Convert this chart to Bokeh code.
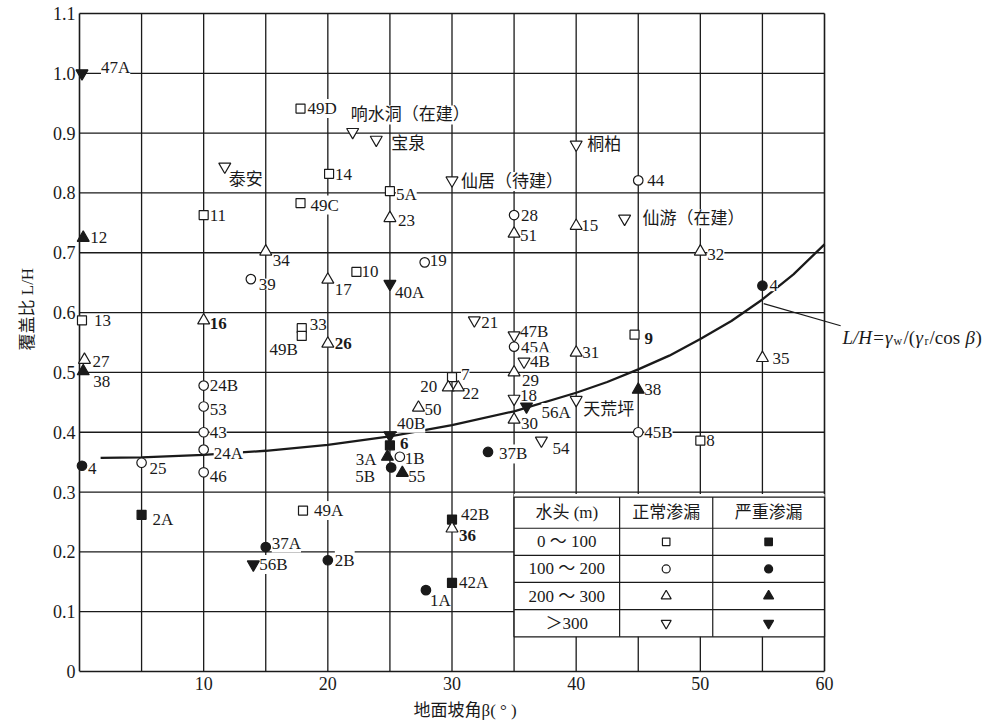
from bokeh.plotting import figure
from bokeh.models import (FixedTicker, PrintfTickFormatter, ColumnDataSource, Range1d, Title)
from bokeh.core.properties import value
from bokeh.embed import file_html
from bokeh.resources import INLINE

# ---------------- data ----------------
point_names = ["47A", "49D", "泰安", "49C", "11", "12", "34", "响水洞（在建）", "宝泉", "14",
               "5A", "23", "仙居（待建）", "28", "51", "桐柏", "15", "19", "44", "仙游（在建）",
               "32", "39", "13", "16", "33", "49B", "27", "38", "24B", "53",
               "43", "24A", "46", "4", "25", "17", "10", "40A", "26", "21",
               "47B", "45A", "4B", "29", "7", "20", "22", "18", "56A", "天荒坪",
               "30", "50", "40B", "6", "3A", "1B", "5B", "55", "37B", "54",
               "31", "9", "38", "45B", "4", "35", "8", "2A", "37A", "56B",
               "49A", "2B", "42B", "36", "42A", "1A"]
slope_beta = [0.2, 17.8, 11.7, 17.8, 10, 0.3, 15, 22.0, 23.9, 20.1,
              25, 25, 30, 35, 35, 40, 40, 27.8, 45, 43.9,
              50, 13.8, 0.2, 10, 17.9, 17.9, 0.4, 0.3, 10, 10,
              10, 10, 10, 0.2, 5, 20, 22.3, 25, 20, 31.8,
              35, 35, 35.8, 35, 30, 29.7, 30.5, 35, 36.0, 40,
              35, 27.3, 25, 25, 24.8, 25.8, 25.1, 26.0, 32.9, 37.2,
              40, 44.7, 45, 45, 55, 55, 50, 5, 15, 14.0,
              18.0, 20, 30, 30, 30, 27.9]
cover_ratio = [1.000, 0.941, 0.844, 0.783, 0.763, 0.725, 0.702, 0.902, 0.889, 0.832,
               0.803, 0.758, 0.821, 0.763, 0.732, 0.881, 0.745, 0.684, 0.821, 0.757,
               0.702, 0.656, 0.587, 0.587, 0.574, 0.561, 0.521, 0.502, 0.478, 0.443,
               0.400, 0.371, 0.333, 0.344, 0.349, 0.655, 0.668, 0.648, 0.548, 0.587,
               0.562, 0.543, 0.518, 0.500, 0.492, 0.475, 0.475, 0.456, 0.443, 0.454,
               0.421, 0.441, 0.395, 0.378, 0.359, 0.359, 0.341, 0.332, 0.367, 0.386,
               0.533, 0.563, 0.471, 0.400, 0.645, 0.524, 0.386, 0.262, 0.208, 0.179,
               0.269, 0.186, 0.254, 0.239, 0.148, 0.136]
# head class: 0 = 0~100 m, 1 = 100~200 m, 2 = 200~300 m, 3 = >300 m
head_class = [3, 0, 3, 0, 0, 2, 2, 3, 3, 0,
              0, 2, 3, 1, 2, 3, 2, 1, 1, 3,
              2, 1, 0, 2, 0, 0, 2, 2, 1, 1,
              1, 1, 1, 1, 1, 2, 0, 3, 2, 3,
              3, 1, 3, 2, 0, 2, 2, 3, 3, 3,
              2, 2, 3, 0, 2, 1, 1, 2, 1, 3,
              2, 0, 2, 1, 1, 2, 0, 0, 1, 3,
              0, 1, 0, 2, 0, 1]
# 1 = severe leakage (filled), 0 = normal leakage (open)
severe_leak = [1, 0, 0, 0, 0, 1, 0, 0, 0, 0,
               0, 0, 0, 0, 0, 0, 0, 0, 0, 0,
               0, 0, 0, 0, 0, 0, 0, 1, 0, 0,
               0, 0, 0, 1, 0, 0, 0, 1, 0, 0,
               0, 0, 0, 0, 0, 0, 0, 0, 1, 0,
               0, 0, 1, 1, 1, 0, 1, 1, 1, 0,
               0, 0, 1, 0, 1, 0, 0, 1, 1, 1,
               0, 1, 1, 0, 1, 1]

# theoretical curve L/H = γw/(γr/cosβ)
curve_beta = [1.7, 5, 10, 15, 20, 25, 30, 35, 40, 42.5, 45, 47.5, 50, 52.5, 55, 57.5, 60]
curve_ratio = [0.357, 0.358, 0.362, 0.369, 0.379, 0.393, 0.412, 0.435, 0.466, 0.484,
               0.505, 0.528, 0.556, 0.586, 0.622, 0.664, 0.714]

x_ticks = [10, 20, 30, 40, 50, 60]
y_ticks = [0, 0.1, 0.2, 0.3, 0.4, 0.5, 0.6, 0.7, 0.8, 0.9, 1.0, 1.1]
x_grid = [5, 10, 15, 20, 25, 30, 35, 40, 45, 50, 55]
y_grid = [0.1, 0.2, 0.3, 0.4, 0.5, 0.6, 0.7, 0.8, 0.9, 1.0]
x_lim = (0, 60)
y_lim = (0, 1.1)
legend_heads = ["0 ～ 100", "100 ～ 200", "200 ～ 300", "＞300"]
legend_cols = ["水头 (m)", "正常渗漏", "严重渗漏"]

# ---------------- label placement (screen px offsets, styles) ----------------
label_dx = [19, 7, 4, 10, 6, 7, 7, -2, 15, 6,
            6, 8, 9, 7, 6, 11, 5, 5, 9, 18,
            7, 8, 12, 6, 8, -4, 8, 10, 6, 6,
            6, 10, 6, 6, 8, 7, 5, 5, 7, 7,
            6, 7, 6, 8, 9, -11, 4, 6, 15, 7,
            7, 6, 7, 10, -11, 5, -16, 6, 11, 11,
            6, 10, 6, 6, 7, 10, 6, 11, 6, 6,
            11, 7, 9, 7, 7, 4]
label_dy = [-6, 0, 13, 2, 0, 0, 9, -17, 4, 1,
            3, 2, 1, 0, 2, 0, 0, -2, 0, 0,
            3, 5, 0, 3, -4, 14, 2, 10, 0, 3,
            0, 4, 4, 3, 6, 10, 0, 9, 0, 2,
            -4, 1, 0, 8, -3, -1, 6, -3, 6, 10,
            4, 2, -12, -2, 3, 2, 9, 4, 2, 8,
            0, 4, 0, 0, 0, 0, 0, 5, -4, 0,
            0, 0, -5, 7, 0, 10]
right_aligned = {"49B", "20", "3A", "5B"}
bold_labels = {"16", "26", "9", "6", "36"}

FONT = "Liberation Serif, Noto Sans CJK SC"
SERIF = "Liberation Serif"
BLACK = "#1a1a1a"

# canvas geometry (pixels)
W, H = 989, 726
FRAME_L, FRAME_T, FRAME_B = 73, 11, 671     # frame edges on the canvas
PX_PER_X = 745 / 60                          # px per degree
PX_PER_Y = 658 / 1.1                         # px per unit of L/H
x0 = -(79 - FRAME_L) / PX_PER_X
x1 = x0 + (W - FRAME_L) / PX_PER_X
y1 = (FRAME_B - FRAME_T) / PX_PER_Y

marker_names = ["square", "circle", "triangle", "inverted_triangle"]
marker_sizes = [9, 9.5, 12, 12]

p = figure(width=W, height=H, x_range=Range1d(x0, x1), y_range=Range1d(0, y1),
           output_backend="svg", toolbar_location=None,
           min_border_left=FRAME_L, min_border_right=0, min_border_top=FRAME_T,
           min_border_bottom=H - FRAME_B)
p.background_fill_color = "white"
p.border_fill_color = "white"
p.outline_line_color = None
p.xgrid.visible = False
p.ygrid.visible = False

# axes
for ax in (p.xaxis[0], p.yaxis[0]):
    ax.major_tick_line_color = None
    ax.minor_tick_line_color = None
    ax.major_tick_out = 0
    ax.major_tick_in = 0
    ax.major_label_text_font = SERIF
    ax.major_label_text_font_size = "18px"
    ax.major_label_text_color = BLACK
p.xaxis.ticker = FixedTicker(ticks=x_ticks)
p.xaxis.bounds = x_lim
p.xaxis.axis_line_color = BLACK
p.xaxis.axis_line_width = 1.6
p.xaxis.major_label_standoff = 5
p.yaxis.ticker = FixedTicker(ticks=y_ticks)
p.yaxis.bounds = y_lim
p.yaxis.axis_line_color = None
p.yaxis.major_label_standoff = -2
p.yaxis.formatter = PrintfTickFormatter(format="%.1f")
p.yaxis.major_label_overrides = {0: "0"}

# axis titles
p.add_layout(Title(text="覆盖比 L/H", align="left", offset=321, standoff=26,
                   text_font=FONT, text_font_size="17px", text_font_style="normal",
                   text_color=BLACK), "left")
p.add_layout(Title(text="地面坡角β( ° )", align="left", offset=340, standoff=12,
                   text_font=FONT, text_font_size="17px", text_font_style="normal",
                   text_color=BLACK), "below")

# grid lines and frame border (0..60, 0..1.1)
p.segment(x0=x_grid, x1=x_grid, y0=[y_lim[0]] * len(x_grid), y1=[y_lim[1]] * len(x_grid),
          line_color=BLACK, line_width=1.3)
p.segment(x0=[x_lim[0]] * len(y_grid), x1=[x_lim[1]] * len(y_grid), y0=y_grid, y1=y_grid,
          line_color=BLACK, line_width=1.3)
p.segment(x0=[x_lim[0], x_lim[1], x_lim[0]], x1=[x_lim[0], x_lim[1], x_lim[1]],
          y0=[y_lim[0], y_lim[0], y_lim[1]], y1=[y_lim[1], y_lim[1], y_lim[1]],
          line_color=BLACK, line_width=1.6)

# legend table background (hides grid inside the table)
p.quad(left=[35], right=[60], bottom=[0.058], top=[0.2967], fill_color="white", line_color=None)

# theoretical curve
p.line(curve_beta, curve_ratio, line_color=BLACK, line_width=2.3)

# point labels with white background
src_lab = ColumnDataSource(dict(
    x=slope_beta, y=cover_ratio, t=point_names, dx=label_dx, dy=label_dy,
    align=["right" if n in right_aligned else "left" for n in point_names],
    fs=["bold" if n in bold_labels else "normal" for n in point_names]))
p.text(x="x", y="y", text="t", x_offset="dx", y_offset="dy", text_align="align",
       text_baseline="middle", text_font=value(FONT), text_font_size="17px",
       text_font_style="fs", text_color=BLACK, background_fill_color="white", source=src_lab)

# markers
src_pts = ColumnDataSource(dict(
    x=slope_beta, y=cover_ratio,
    m=[marker_names[h] for h in head_class],
    s=[marker_sizes[h] for h in head_class],
    f=[BLACK if s else "white" for s in severe_leak]))
p.scatter(x="x", y="y", marker="m", size="s", fill_color="f", line_color=BLACK,
          line_width=1.2, source=src_pts)

# legend table lines
tbl_left, tbl_right, tbl_bottom, tbl_top = 35, 60, 0.058, 0.2916
row_lines = [0.2395, 0.194, 0.149, 0.1034]
col_lines = [43.5, 51.0]
p.quad(left=[tbl_left], right=[tbl_right], bottom=[tbl_bottom], top=[tbl_top],
       fill_color=None, line_color=BLACK, line_width=1.3)
p.segment(x0=[tbl_left] * 4, x1=[tbl_right] * 4, y0=row_lines, y1=row_lines,
          line_color=BLACK, line_width=1.2)
p.segment(x0=col_lines, x1=col_lines, y0=[tbl_bottom] * 2, y1=[tbl_top] * 2,
          line_color=BLACK, line_width=1.2)

row_edges = [tbl_top] + row_lines + [tbl_bottom]
row_mid = [(row_edges[i] + row_edges[i + 1]) / 2 for i in range(5)]
col_edges = [tbl_left] + col_lines + [tbl_right]
col_mid = [(col_edges[i] + col_edges[i + 1]) / 2 for i in range(3)]

p.text(x=col_mid, y=[row_mid[0]] * 3, text=legend_cols, text_align="center",
       text_baseline="middle", text_font=value(FONT), text_font_size="17px", text_color=BLACK)
p.text(x=[col_mid[0]] * 4, y=row_mid[1:], text=legend_heads, text_align="center",
       text_baseline="middle", text_font=value(FONT), text_font_size="17px", text_color=BLACK)
leg_sizes = [7.5, 8, 10, 10]
p.scatter(x=[col_mid[1]] * 4, y=row_mid[1:], marker=marker_names, size=leg_sizes,
          fill_color="white", line_color=BLACK, line_width=1.2)
p.scatter(x=[col_mid[2]] * 4, y=row_mid[1:], marker=marker_names, size=leg_sizes,
          fill_color=BLACK, line_color=BLACK, line_width=1.2)

# formula leader line and label (outside the 0..60 box)
p.segment(x0=[55.1], y0=[0.615], x1=[61.3], y1=[0.578], line_color=BLACK, line_width=1.2)
fx, fy_main, fy_sub = 61.45, 0.5585, 0.5517
pieces = [("L/H=γ", 0, "italic", "19px", fy_main),
          ("w", 51, "normal", "12px", fy_sub),
          ("/(", 61, "normal", "19px", fy_main),
          ("γ", 73, "italic", "19px", fy_main),
          ("r", 82, "normal", "12px", fy_sub),
          (" /cos", 87, "normal", "19px", fy_main),
          ("β", 123, "italic", "19px", fy_main),
          (")", 133, "normal", "19px", fy_main)]
for txt, off, style, size, yy in pieces:
    p.text(x=[fx], y=[yy], text=[txt], x_offset=off, text_font=value(SERIF),
           text_font_style=style, text_font_size=size, text_color=BLACK,
           text_baseline="alphabetic", text_align="left")

open("out.html", "w").write(file_html(p, INLINE))
